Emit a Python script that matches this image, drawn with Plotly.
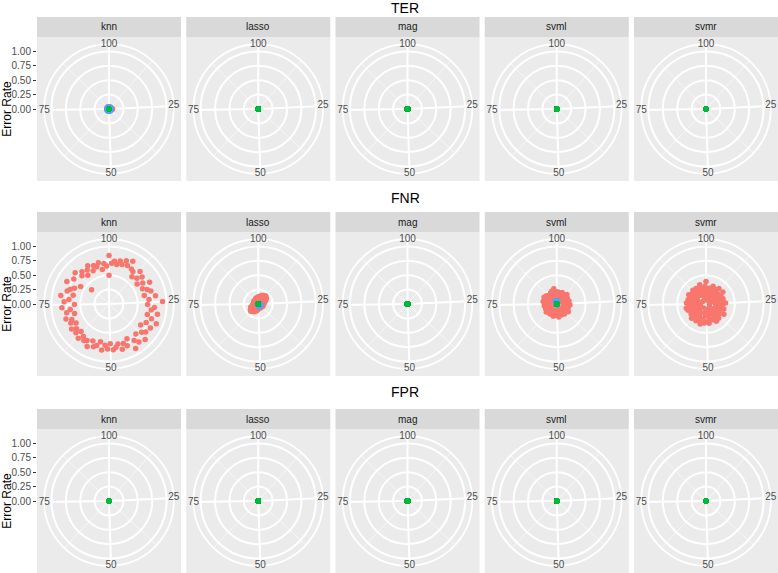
import plotly.graph_objects as go

# --- data ------------------------------------------------------------------
metrics = ['TER', 'FNR', 'FPR']
models = ['knn', 'lasso', 'mag', 'svml', 'svmr']
iterations = list(range(1, 101))
theta_breaks = [25, 50, 75, 100]
theta_labels = ['25', '50', '75', '100']
theta_minor = [12.5, 37.5, 62.5, 87.5]
r_breaks = [0.0, 0.25, 0.5, 0.75, 1.0]
r_labels = ['0.00', '0.25', '0.50', '0.75', '1.00']

zero = [0.0] * 100

ter_knn_red = [
    0.00, 0.01, 0.00, 0.02, 0.00, 0.01, 0.00, 0.00, 0.01, 0.00,
    0.02, 0.00, 0.01, 0.00, 0.00, 0.01, 0.00, 0.02, 0.00, 0.01,
    0.00, 0.01, 0.03, 0.05, 0.06, 0.04, 0.06, 0.02, 0.00, 0.01,
    0.00, 0.02, 0.00, 0.01, 0.00, 0.00, 0.01, 0.00, 0.02, 0.00,
    0.01, 0.00, 0.00, 0.02, 0.00, 0.01, 0.00, 0.00, 0.01, 0.00,
    0.02, 0.00, 0.01, 0.00, 0.00, 0.01, 0.00, 0.02, 0.00, 0.01,
    0.00, 0.00, 0.01, 0.00, 0.02, 0.00, 0.01, 0.00, 0.00, 0.01,
    0.00, 0.02, 0.00, 0.01, 0.00, 0.00, 0.01, 0.00, 0.02, 0.00,
    0.01, 0.00, 0.00, 0.02, 0.00, 0.01, 0.00, 0.00, 0.01, 0.00,
    0.02, 0.00, 0.01, 0.00, 0.00, 0.01, 0.00, 0.02, 0.00, 0.01,
]
ter_knn_blue = [
    0.02, 0.03, 0.01, 0.04, 0.02, 0.00, 0.03, 0.01, 0.02, 0.04,
    0.01, 0.03, 0.02, 0.00, 0.04, 0.02, 0.01, 0.03, 0.02, 0.01,
    0.03, 0.02, 0.04, 0.01, 0.02, 0.03, 0.00, 0.02, 0.04, 0.01,
    0.02, 0.04, 0.01, 0.03, 0.02, 0.01, 0.03, 0.00, 0.02, 0.04,
    0.03, 0.01, 0.02, 0.04, 0.00, 0.02, 0.03, 0.01, 0.04, 0.02,
    0.01, 0.03, 0.02, 0.04, 0.01, 0.02, 0.00, 0.03, 0.02, 0.04,
    0.02, 0.01, 0.03, 0.02, 0.04, 0.01, 0.02, 0.03, 0.00, 0.02,
    0.04, 0.02, 0.01, 0.03, 0.02, 0.04, 0.01, 0.02, 0.03, 0.01,
    0.02, 0.04, 0.03, 0.01, 0.02, 0.00, 0.03, 0.02, 0.04, 0.01,
    0.03, 0.02, 0.01, 0.04, 0.02, 0.03, 0.01, 0.02, 0.04, 0.02,
]
fnr_knn_red = [
    0.84, 0.71, 0.75, 0.70, 0.77, 0.72, 0.81, 0.74, 0.85, 0.72,
    0.70, 0.62, 0.78, 0.66, 0.74, 0.60, 0.69, 0.80, 0.64, 0.71,
    0.76, 0.63, 0.82, 0.70, 0.93, 0.67, 0.79, 0.74, 0.86, 0.69,
    0.78, 0.89, 0.72, 0.83, 0.66, 0.80, 0.75, 0.88, 0.70, 0.84,
    0.77, 0.90, 0.68, 0.79, 0.73, 0.82, 0.71, 0.76, 0.80, 0.69,
    0.78, 0.72, 0.81, 0.67, 0.75, 0.79, 0.70, 0.83, 0.74, 0.77,
    0.72, 0.80, 0.68, 0.76, 0.71, 0.78, 0.66, 0.74, 0.70, 0.79,
    0.62, 0.75, 0.68, 0.82, 0.60, 0.78, 0.70, 0.85, 0.64, 0.76,
    0.72, 0.66, 0.83, 0.58, 0.75, 0.39, 0.80, 0.68, 0.73, 0.62,
    0.70, 0.76, 0.64, 0.72, 0.68, 0.74, 0.61, 0.71, 0.66, 0.50,
]
fnr_lasso_red = [
    0.11, 0.09, 0.13, 0.08, 0.14, 0.12, 0.16, 0.10, 0.17, 0.15,
    0.18, 0.13, 0.19, 0.16, 0.14, 0.17, 0.12, 0.15, 0.11, 0.13,
    0.09, 0.11, 0.07, 0.10, 0.08, 0.06, 0.09, 0.05, 0.08, 0.07,
    0.06, 0.08, 0.05, 0.09, 0.07, 0.04, 0.08, 0.06, 0.07, 0.05,
    0.06, 0.04, 0.07, 0.05, 0.08, 0.06, 0.05, 0.07, 0.04, 0.06,
    0.08, 0.10, 0.07, 0.12, 0.09, 0.13, 0.11, 0.15, 0.10, 0.14,
    0.16, 0.12, 0.18, 0.14, 0.17, 0.13, 0.15, 0.11, 0.14, 0.10,
    0.09, 0.07, 0.10, 0.06, 0.08, 0.05, 0.07, 0.06, 0.08, 0.05,
    0.07, 0.06, 0.09, 0.05, 0.08, 0.07, 0.06, 0.09, 0.07, 0.08,
    0.09, 0.07, 0.10, 0.08, 0.11, 0.09, 0.08, 0.10, 0.12, 0.09,
]
fnr_lasso_blue = [
    0.00, 0.00, 0.00, 0.00, 0.00, 0.00, 0.00, 0.00, 0.00, 0.00,
    0.00, 0.00, 0.00, 0.00, 0.00, 0.00, 0.00, 0.00, 0.00, 0.00,
    0.00, 0.00, 0.00, 0.00, 0.00, 0.03, 0.04, 0.02, 0.05, 0.03,
    0.04, 0.02, 0.05, 0.03, 0.04, 0.02, 0.03, 0.05, 0.04, 0.02,
    0.03, 0.04, 0.05, 0.02, 0.03, 0.04, 0.03, 0.05, 0.02, 0.04,
    0.00, 0.00, 0.00, 0.00, 0.00, 0.00, 0.00, 0.00, 0.00, 0.00,
    0.00, 0.00, 0.00, 0.00, 0.00, 0.00, 0.00, 0.00, 0.00, 0.00,
    0.00, 0.00, 0.00, 0.00, 0.00, 0.00, 0.00, 0.00, 0.00, 0.00,
    0.00, 0.00, 0.00, 0.00, 0.00, 0.00, 0.00, 0.00, 0.00, 0.00,
    0.00, 0.00, 0.00, 0.00, 0.00, 0.00, 0.00, 0.00, 0.00, 0.00,
]
fnr_svml_red = [
    0.18, 0.12, 0.21, 0.15, 0.10, 0.19, 0.14, 0.22, 0.11, 0.17,
    0.20, 0.13, 0.16, 0.24, 0.12, 0.19, 0.15, 0.21, 0.10, 0.18,
    0.14, 0.22, 0.17, 0.11, 0.20, 0.15, 0.23, 0.13, 0.18, 0.16,
    0.21, 0.12, 0.19, 0.14, 0.24, 0.16, 0.11, 0.20, 0.15, 0.22,
    0.13, 0.18, 0.10, 0.21, 0.16, 0.19, 0.12, 0.23, 0.15, 0.17,
    0.20, 0.14, 0.18, 0.11, 0.22, 0.16, 0.13, 0.19, 0.15, 0.21,
    0.17, 0.12, 0.20, 0.15, 0.23, 0.18, 0.11, 0.16, 0.21, 0.14,
    0.19, 0.13, 0.22, 0.16, 0.10, 0.20, 0.15, 0.24, 0.18, 0.12,
    0.21, 0.16, 0.25, 0.14, 0.19, 0.23, 0.17, 0.12, 0.20, 0.15,
    0.18, 0.22, 0.13, 0.24, 0.16, 0.20, 0.27, 0.15, 0.19, 0.21,
]
fnr_svml_blue = [
    0.05, 0.04, 0.06, 0.03, 0.05, 0.04, 0.03, 0.02, 0.01, 0.01,
    0.01, 0.01, 0.01, 0.01, 0.01, 0.01, 0.01, 0.01, 0.01, 0.01,
    0.01, 0.01, 0.01, 0.01, 0.01, 0.01, 0.01, 0.01, 0.01, 0.01,
    0.01, 0.01, 0.01, 0.01, 0.01, 0.01, 0.01, 0.01, 0.01, 0.01,
    0.01, 0.01, 0.01, 0.01, 0.01, 0.01, 0.01, 0.01, 0.01, 0.01,
    0.01, 0.01, 0.01, 0.01, 0.01, 0.01, 0.01, 0.01, 0.01, 0.01,
    0.01, 0.01, 0.01, 0.01, 0.01, 0.01, 0.01, 0.01, 0.01, 0.01,
    0.01, 0.01, 0.01, 0.01, 0.01, 0.01, 0.01, 0.01, 0.01, 0.01,
    0.01, 0.01, 0.01, 0.01, 0.01, 0.01, 0.01, 0.01, 0.02, 0.03,
    0.04, 0.05, 0.03, 0.06, 0.04, 0.05, 0.03, 0.06, 0.04, 0.05,
]
fnr_svmr_red = [
    0.39, 0.22, 0.15, 0.28, 0.07, 0.25, 0.33, 0.18, 0.09, 0.30,
    0.24, 0.35, 0.16, 0.27, 0.21, 0.36, 0.08, 0.29, 0.23, 0.19,
    0.31, 0.14, 0.26, 0.20, 0.34, 0.17, 0.28, 0.06, 0.24, 0.32,
    0.18, 0.27, 0.22, 0.36, 0.15, 0.29, 0.25, 0.09, 0.33, 0.20,
    0.26, 0.35, 0.19, 0.30, 0.11, 0.28, 0.23, 0.34, 0.17, 0.31,
    0.21, 0.33, 0.16, 0.27, 0.36, 0.08, 0.29, 0.24, 0.34, 0.18,
    0.30, 0.22, 0.35, 0.15, 0.26, 0.31, 0.19, 0.28, 0.10, 0.33,
    0.24, 0.35, 0.17, 0.29, 0.21, 0.34, 0.12, 0.27, 0.32, 0.20,
    0.28, 0.16, 0.34, 0.23, 0.30, 0.07, 0.26, 0.33, 0.19, 0.25,
    0.32, 0.18, 0.29, 0.22, 0.35, 0.13, 0.27, 0.21, 0.31, 0.24,
]

# (red, blue, green) series per panel; None = group not present
series = {
    ('TER', 'knn'): (ter_knn_red, ter_knn_blue, zero),
    ('FNR', 'knn'): (fnr_knn_red, None, None),
    ('FNR', 'lasso'): (fnr_lasso_red, fnr_lasso_blue, zero),
    ('FNR', 'svml'): (fnr_svml_red, fnr_svml_blue, zero),
    ('FNR', 'svmr'): (fnr_svmr_red, None, None),
}

# --- layout constants (pixels) ----------------------------------------------
W, H = 778, 573
PANEL = 144
col_x0 = [37, 186.25, 335.5, 484.75, 634]
panel_top = [37, 232, 429]
strip_h = 20
title_y = [8, 198, 392]
OUTER = 1.125  # ggplot's outer ring (0.45 / 0.4)
colors = {'red': '#F8766D', 'green': '#00BA38', 'blue': '#619CFF'}
FONT = 'Liberation Sans, Arial, Helvetica, sans-serif'
GRID_W = 1.8


def deg(i):
    # ggplot maps theta range [1, 100] onto the full circle
    return (i - 1) * 360.0 / 99.0


fig = go.Figure()
shapes, annotations = [], []
layout = {}

for ri, metric in enumerate(metrics):
    top = panel_top[ri]
    for ci, model in enumerate(models):
        k = ri * 5 + ci + 1
        pname = 'polar' if k == 1 else 'polar%d' % k
        x0 = col_x0[ci]
        cx, cy = x0 + PANEL / 2, top + PANEL / 2
        rad = OUTER * 0.4 * PANEL

        shapes.append(dict(type='rect', xref='paper', yref='paper', layer='below',
                           x0=x0 / W, x1=(x0 + PANEL) / W,
                           y0=1 - top / H, y1=1 - (top + PANEL) / H,
                           fillcolor='#EBEBEB', line_width=0))
        shapes.append(dict(type='rect', xref='paper', yref='paper', layer='below',
                           x0=x0 / W, x1=(x0 + PANEL) / W,
                           y0=1 - (top - strip_h) / H, y1=1 - top / H,
                           fillcolor='#D9D9D9', line_width=0))
        annotations.append(dict(text=model, x=cx / W, y=1 - (top - strip_h / 2) / H,
                                xref='paper', yref='paper', showarrow=False,
                                xanchor='center', yanchor='middle',
                                font=dict(size=10, color='#1A1A1A')))

        layout[pname] = dict(
            domain=dict(x=[(cx - rad) / W, (cx + rad) / W],
                        y=[1 - (cy + rad) / H, 1 - (cy - rad) / H]),
            bgcolor='#EBEBEB',
            radialaxis=dict(range=[0, OUTER], tickvals=r_breaks[1:], showticklabels=False,
                            ticks='', showline=False, gridcolor='white', gridwidth=GRID_W,
                            layer='below traces'),
            angularaxis=dict(direction='clockwise', rotation=90,
                             tickvals=[deg(b) % 360 for b in theta_breaks],
                             showticklabels=False, ticks='', gridcolor='white',
                             gridwidth=GRID_W, showline=True, linecolor='white',
                             linewidth=GRID_W, layer='below traces'),
        )

        # minor theta grid
        mr, mt = [], []
        for m in theta_minor:
            mr += [0, OUTER, None]
            mt += [deg(m), deg(m), None]
        fig.add_trace(go.Scatterpolar(r=mr, theta=mt, mode='lines', subplot=pname,
                                      line=dict(color='rgba(255,255,255,0.85)', width=0.7),
                                      hoverinfo='skip', showlegend=False))

        red, blue, green = series.get((metric, model), (zero, zero, zero))
        thetas = [deg(i) for i in iterations]
        for vals, col in ((red, 'red'), (blue, 'blue'), (green, 'green')):
            if vals is None:
                continue
            fig.add_trace(go.Scatterpolar(r=vals, theta=thetas, mode='markers',
                                          subplot=pname, showlegend=False,
                                          marker=dict(color=colors[col], size=5.5,
                                                      line_width=0)))

        # theta labels sit on the outer ring like ggplot's
        fig.add_trace(go.Scatterpolar(r=[OUTER] * len(theta_breaks),
                                      theta=[deg(b) for b in theta_breaks],
                                      text=theta_labels, mode='text', subplot=pname,
                                      cliponaxis=False, hoverinfo='skip', showlegend=False,
                                      textfont=dict(size=10, color='#4D4D4D')))

    # radial scale on the left of the first panel of each row
    xa = 'xaxis' if ri == 0 else 'xaxis%d' % (ri + 1)
    ya = 'yaxis' if ri == 0 else 'yaxis%d' % (ri + 1)
    xs = 'x' if ri == 0 else 'x%d' % (ri + 1)
    ys = 'y' if ri == 0 else 'y%d' % (ri + 1)
    half = (PANEL / 2) / (0.4 * PANEL)
    layout[xa] = dict(domain=[col_x0[0] / W, (col_x0[0] + 1) / W], visible=False,
                      anchor=ys, range=[0, 1], fixedrange=True)
    layout[ya] = dict(domain=[1 - (top + PANEL) / H, 1 - top / H], anchor=xs,
                      range=[-half, half], tickvals=r_breaks, ticktext=r_labels,
                      ticks='outside', ticklen=3, tickwidth=1, tickcolor='#333333',
                      tickfont=dict(size=10, color='#4D4D4D'), showgrid=False,
                      zeroline=False, showline=False, fixedrange=True,
                      title=dict(text='Error Rate', font=dict(size=12, color='black'),
                                 standoff=2))
    fig.add_trace(go.Scatter(x=[None], y=[None], xaxis=xs, yaxis=ys, mode='markers',
                             showlegend=False, hoverinfo='skip'))

    annotations.append(dict(text=metric, x=405 / W, y=1 - title_y[ri] / H,
                            xref='paper', yref='paper', showarrow=False,
                            xanchor='center', yanchor='middle',
                            font=dict(size=14, color='black')))

fig.update_layout(width=W, height=H, autosize=False,
                  margin=dict(l=0, r=0, t=0, b=0),
                  paper_bgcolor='white', plot_bgcolor='white',
                  font=dict(family=FONT), showlegend=False,
                  shapes=shapes, annotations=annotations, **layout)

# the page's default body margin would shift the figure by 8px
fig.write_html("out.html", config={'displayModeBar': False},
               post_script="document.body.style.margin='0';")
